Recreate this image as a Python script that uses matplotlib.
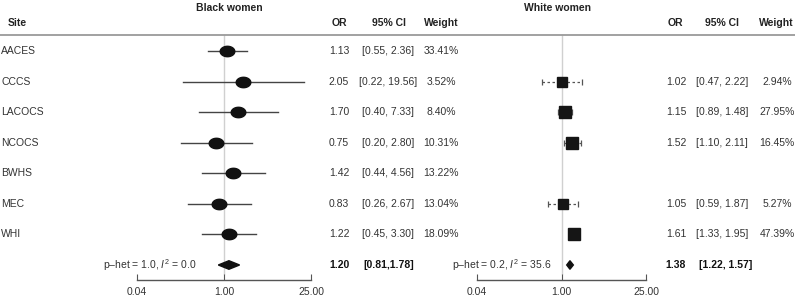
import numpy as np
import matplotlib
matplotlib.use("Agg")
import matplotlib.pyplot as plt
from matplotlib.lines import Line2D
from matplotlib.path import Path
from matplotlib.transforms import blended_transform_factory

plt.rcParams['font.family'] = ['Liberation Sans', 'DejaVu Sans']
plt.rcParams['mathtext.fontset'] = 'custom'
plt.rcParams['mathtext.it'] = 'Liberation Sans:italic'
plt.rcParams['mathtext.rm'] = 'Liberation Sans'

# data
sites = ["AACES", "CCCS", "LACOCS", "NCOCS", "BWHS", "MEC", "WHI"]

black_or = [1.13, 2.05, 1.70, 0.75, 1.42, 0.83, 1.22]
black_lo = [0.55, 0.22, 0.40, 0.20, 0.44, 0.26, 0.45]
black_hi = [2.36, 19.56, 7.33, 2.80, 4.56, 2.67, 3.30]
black_wt = [33.41, 3.52, 8.40, 10.31, 13.22, 13.04, 18.09]
black_sum = [1.20, 0.81, 1.78]
black_het = r"p–het = 1.0, $I^2$ = 0.0"

nan = np.nan
white_or = [nan, 1.02, 1.15, 1.52, nan, 1.05, 1.61]
white_lo = [nan, 0.47, 0.89, 1.10, nan, 0.59, 1.33]
white_hi = [nan, 2.22, 1.48, 2.11, nan, 1.87, 1.95]
white_wt = [nan, 2.94, 27.95, 16.45, nan, 5.27, 47.39]
white_sum = [1.38, 1.22, 1.57]
white_het = r"p–het = 0.2, $I^2$ = 35.6"

xticks = [0.04, 1.0, 25.0]
xtick_labels = ["0.04", "1.00", "25.00"]

W, H = 795, 302
fig = plt.figure(figsize=(W / 100, H / 100), dpi=100)


def fx(px):
    return px / W


def fy(py):
    return 1 - py / H


# ellipse marker for black women
t = np.linspace(0, 2 * np.pi, 60)
ell = Path(np.column_stack([1.4 * np.cos(t), np.sin(t)]))

row_y0, row_dy = 51, 30.57
ax_top, ax_bot = 35, 280
n = len(sites)
summary_row = n


def make_axes(left, right):
    ax = fig.add_axes([fx(left), fy(ax_bot), fx(right - left), (ax_bot - ax_top) / H])
    ax.set_xscale('log')
    ax.set_xlim(0.04, 25)
    ax.set_ylim((ax_bot - row_y0) / row_dy, (ax_top - row_y0) / row_dy)
    for s in ['top', 'left', 'right']:
        ax.spines[s].set_visible(False)
    ax.spines['bottom'].set_color('#555555')
    ax.spines['bottom'].set_linewidth(1.0)
    ax.set_yticks([])
    ax.set_xticks(xticks)
    ax.set_xticklabels(xtick_labels)
    ax.minorticks_off()
    ax.tick_params(axis='x', direction='in', length=4, color='#555555',
                   labelsize=7.5, labelcolor='#333333', pad=5)
    ax.patch.set_alpha(0)
    ax.plot([1, 1], [-0.52, 7.3], color='#d0d0d0', lw=1, zorder=0, clip_on=False)
    return ax


axL = make_axes(137, 311)
axR = make_axes(477, 646)
rows = np.arange(n)

# black women
for i in range(n):
    axL.plot([black_lo[i], black_hi[i]], [rows[i], rows[i]], color='#444444', lw=1.0, zorder=2)
axL.plot(black_or, rows, ls='none', marker=ell, ms=10.5, color='#111111', zorder=3)
o, lo, hi = black_sum
axL.fill([lo, o, hi, o], [summary_row, summary_row - 0.14, summary_row, summary_row + 0.14],
         color='#111111', zorder=3)

# white women
for i in range(n):
    if np.isnan(white_or[i]):
        continue
    axR.plot([white_lo[i], white_hi[i]], [rows[i], rows[i]], color='#555555', lw=0.9,
             ls=(0, (2, 2)), zorder=2)
    axR.plot([white_lo[i], white_hi[i]], [rows[i], rows[i]], ls='none', marker='|',
             ms=5, mew=0.9, color='#555555', zorder=2)
    axR.plot(white_or[i], rows[i], ls='none', marker='s',
             ms=7.3 + 0.22 * np.sqrt(white_wt[i]), color='#151515', zorder=3)
o, lo, hi = white_sum
axR.fill([lo, o, hi, o], [summary_row, summary_row - 0.14, summary_row, summary_row + 0.14],
         color='#111111', zorder=3)

# titles and headers
fig.text(fx(229), fy(8), "Black women", ha='center', va='center', fontsize=7.5, fontweight='bold', color='#222222')
fig.text(fx(558), fy(8), "White women", ha='center', va='center', fontsize=7.5, fontweight='bold', color='#222222')
hy = fy(23)
hdr = dict(va='center', fontsize=7.5, fontweight='bold', color='#222222')
fig.text(fx(8), hy, "Site", ha='left', **hdr)
fig.text(fx(339), hy, "OR", ha='center', **hdr)
fig.text(fx(389), hy, "95% CI", ha='center', **hdr)
fig.text(fx(441), hy, "Weight", ha='center', **hdr)
fig.text(fx(675), hy, "OR", ha='center', **hdr)
fig.text(fx(722), hy, "95% CI", ha='center', **hdr)
fig.text(fx(776), hy, "Weight", ha='center', **hdr)
fig.add_artist(Line2D([0, 1], [fy(35), fy(35)], color='#9a9a9a', lw=1.3))

# row text
tr = blended_transform_factory(fig.transFigure, axL.transData)
txt = dict(va='center', fontsize=7.5, color='#333333', transform=tr)
for i in range(n):
    fig.text(fx(1), rows[i], sites[i], ha='left', **txt)
    fig.text(fx(339), rows[i], f"{black_or[i]:.2f}", ha='center', **txt)
    fig.text(fx(388), rows[i], f"[{black_lo[i]:.2f}, {black_hi[i]:.2f}]", ha='center', **txt)
    fig.text(fx(441), rows[i], f"{black_wt[i]:.2f}%", ha='center', **txt)
    if not np.isnan(white_or[i]):
        fig.text(fx(676), rows[i], f"{white_or[i]:.2f}", ha='center', **txt)
        fig.text(fx(722), rows[i], f"[{white_lo[i]:.2f}, {white_hi[i]:.2f}]", ha='center', **txt)
        fig.text(fx(777), rows[i], f"{white_wt[i]:.2f}%", ha='center', **txt)

# summary row
fig.text(fx(197), summary_row, black_het, ha='right', **txt)
fig.text(fx(552), summary_row, white_het, ha='right', **txt)
bold = dict(txt, fontweight='bold', color='#111111')
fig.text(fx(339), summary_row, f"{black_sum[0]:.2f}", ha='center', **bold)
fig.text(fx(363), summary_row, f"[{black_sum[1]:.2f},{black_sum[2]:.2f}]", ha='left', **bold)
fig.text(fx(676), summary_row, f"{white_sum[0]:.2f}", ha='center', **bold)
fig.text(fx(699), summary_row, f"[{white_sum[1]:.2f}, {white_sum[2]:.2f}]", ha='left', **bold)

fig.savefig("out.png", dpi=100, facecolor='white')
